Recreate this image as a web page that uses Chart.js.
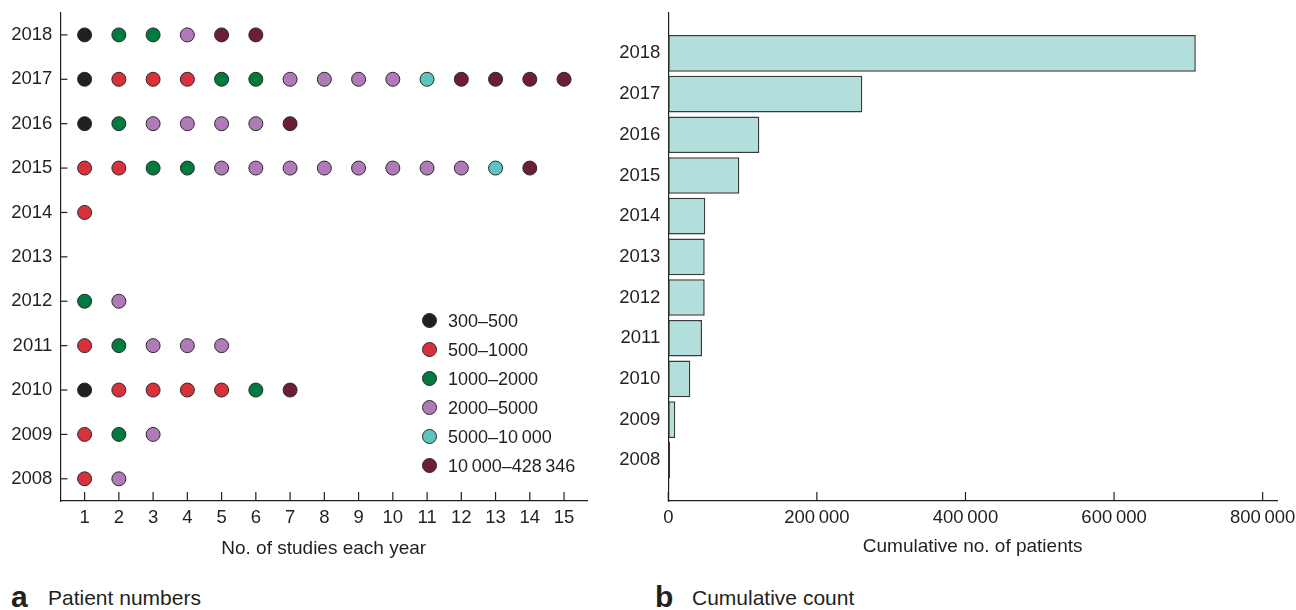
<!DOCTYPE html>
<html>
<head>
<meta charset="utf-8">
<script src="https://cdn.jsdelivr.net/npm/chart.js@4/dist/chart.umd.min.js"></script>
<style>
    body {
        margin: 0;
        width: 1296px;
        height: 610px;
        overflow: hidden;
        background: #fff;
        position: relative;
        font-family: "Liberation Sans", Arial, sans-serif;
        color: #231f20;
    }
    canvas { position: absolute; top: 0; }
    .leyenda-fila {
        position: absolute;
        left: 422px;
        height: 22px;
        line-height: 22px;
        display: flex;
        align-items: center;
        font-size: 18px;
        white-space: nowrap;
    }
    .leyenda-punto {
        width: 15px;
        height: 15px;
        box-sizing: border-box;
        border: 1px solid #2a2a2a;
        border-radius: 50%;
        margin-right: 11px;
        flex: none;
    }
    .pie {
        position: absolute;
        font-size: 21px;
        line-height: 21px;
        white-space: nowrap;
    }
    .letra {
        position: absolute;
        font-size: 30px;
        line-height: 30px;
        font-weight: bold;
    }
</style>
</head>
<body>
<canvas id="graficoEstudios" width="600" height="570" style="left:0"></canvas>
<canvas id="graficoAcumulado" width="740" height="570" style="left:600px"></canvas>
<div id="leyenda"></div>
<div class="letra" style="left:11px;top:582px">a</div>
<div class="pie" style="left:48px;top:587px">Patient numbers</div>
<div class="letra" style="left:655px;top:582px">b</div>
<div class="pie" style="left:692px;top:587px">Cumulative count</div>

<script>
// Categorías de tamaño de estudio (pacientes por estudio)
const categorias = ['300–500', '500–1000', '1000–2000', '2000–5000', '5000–10\u2009000', '10\u2009000–428\u2009346'];
const colores = ['#231f20', '#d7323c', '#007a3e', '#b07ab8', '#5bc5bd', '#6c1c3c'];

const anios = [2008, 2009, 2010, 2011, 2012, 2013, 2014, 2015, 2016, 2017, 2018];

// Categoría de cada estudio, en orden, por año (índice en categorias)
const estudios2008 = [1, 3];
const estudios2009 = [1, 2, 3];
const estudios2010 = [0, 1, 1, 1, 1, 2, 5];
const estudios2011 = [1, 2, 3, 3, 3];
const estudios2012 = [2, 3];
const estudios2013 = [];
const estudios2014 = [1];
const estudios2015 = [1, 1, 2, 2, 3, 3, 3, 3, 3, 3, 3, 3, 4, 5];
const estudios2016 = [0, 2, 3, 3, 3, 3, 5];
const estudios2017 = [0, 1, 1, 1, 2, 2, 3, 3, 3, 3, 4, 5, 5, 5, 5];
const estudios2018 = [0, 2, 2, 3, 5, 5];

const estudiosPorAnio = [estudios2008, estudios2009, estudios2010, estudios2011, estudios2012,
    estudios2013, estudios2014, estudios2015, estudios2016, estudios2017, estudios2018];

// Pacientes acumulados por año
const pacientesAcumulados = [2500, 9400, 29600, 45400, 49000, 49000, 49700, 95600, 122500, 261100, 710000];

const ticksEstudios = [1, 2, 3, 4, 5, 6, 7, 8, 9, 10, 11, 12, 13, 14, 15];
const ticksPacientes = [0, 200000, 400000, 600000, 800000];

const colorTexto = '#231f20';
const familia = '"Liberation Sans", Arial, sans-serif';
const fuenteTicks = { family: familia, size: 18.5 };
const fuenteTitulo = { family: familia, size: 19 };

Chart.defaults.font.family = familia;
Chart.defaults.color = colorTexto;

// Marcas de eje hacia adentro
const ticksInternos = {
    id: 'ticksInternos',
    afterDraw(chart, args, opts) {
        const ctx = chart.ctx;
        ctx.save();
        ctx.strokeStyle = colorTexto;
        ctx.lineWidth = 1.2;
        (opts.ejes || []).forEach(({ id, largo }) => {
            const scale = chart.scales[id];
            scale.ticks.forEach(t => {
                const p = scale.getPixelForValue(t.value);
                ctx.beginPath();
                if (scale.isHorizontal()) {
                    ctx.moveTo(p, scale.top);
                    ctx.lineTo(p, scale.top - largo);
                } else {
                    ctx.moveTo(scale.right, p);
                    ctx.lineTo(scale.right + largo, p);
                }
                ctx.stroke();
            });
        });
        ctx.restore();
    }
};

function fijarTicks(valores) {
    return scale => { scale.ticks = valores.map(v => ({ value: v })); };
}

function anchoEjeY(ancho) {
    return scale => {
        scale.width = ancho;
        scale.paddingTop = 0;
        scale.paddingBottom = 0;
    };
}

function crearGraficoEstudios() {
    const datasets = categorias.map((cat, c) => {
        const puntos = [];
        estudiosPorAnio.forEach((lista, i) => {
            lista.forEach((cod, j) => {
                if (cod === c) puntos.push({ x: j + 1, y: anios[i] });
            });
        });
        return {
            label: cat,
            data: puntos,
            backgroundColor: colores[c],
            borderColor: '#2a2a2a',
            borderWidth: 1,
            pointRadius: 7,
            pointHoverRadius: 7
        };
    });

    new Chart(document.getElementById('graficoEstudios'), {
        type: 'scatter',
        data: { datasets },
        plugins: [ticksInternos],
        options: {
            responsive: false,
            animation: false,
            layout: { padding: { top: 12.7, right: 13, left: 0, bottom: 0 } },
            plugins: {
                legend: { display: false },
                tooltip: { enabled: false },
                ticksInternos: { ejes: [{ id: 'x', largo: 9 }, { id: 'y', largo: 7 }] }
            },
            scales: {
                x: {
                    type: 'linear',
                    min: 0.293,
                    max: 15.67,
                    afterBuildTicks: fijarTicks(ticksEstudios),
                    afterFit: scale => { scale.height = 69; },
                    grid: { display: false, drawTicks: false },
                    border: { display: true, color: colorTexto, width: 1.2 },
                    ticks: { padding: 6, font: fuenteTicks, color: colorTexto, callback: v => String(v) },
                    title: {
                        display: true,
                        text: 'No. of studies each year',
                        font: fuenteTitulo,
                        color: colorTexto,
                        padding: { top: 0, bottom: 10 }
                    }
                },
                y: {
                    type: 'linear',
                    min: 2007.5,
                    max: 2018.5,
                    afterBuildTicks: fijarTicks(anios),
                    afterFit: anchoEjeY(60.4),
                    grid: { display: false, drawTicks: false },
                    border: { display: true, color: colorTexto, width: 1.2 },
                    ticks: { padding: 8, font: fuenteTicks, color: colorTexto, callback: v => String(v) }
                }
            }
        }
    });
}

function crearGraficoAcumulado() {
    new Chart(document.getElementById('graficoAcumulado'), {
        type: 'bar',
        data: {
            datasets: [{
                label: 'Cumulative no. of patients',
                data: anios.map((a, i) => ({ x: pacientesAcumulados[i], y: a })),
                backgroundColor: '#b2dfdb',
                borderColor: '#3a3a3a',
                borderWidth: 1.5,
                borderSkipped: false,
                barPercentage: 0.9,
                categoryPercentage: 1
            }]
        },
        plugins: [ticksInternos],
        options: {
            indexAxis: 'y',
            responsive: false,
            animation: false,
            layout: { padding: { top: 12.7, right: 63, left: 0, bottom: 0 } },
            plugins: {
                legend: { display: false },
                tooltip: { enabled: false },
                ticksInternos: { ejes: [{ id: 'x', largo: 9 }] }
            },
            scales: {
                x: {
                    type: 'linear',
                    min: 0,
                    max: 819300,
                    afterBuildTicks: fijarTicks(ticksPacientes),
                    afterFit: scale => { scale.height = 69; },
                    grid: { display: false, drawTicks: false },
                    border: { display: true, color: colorTexto, width: 1.2 },
                    ticks: {
                        padding: 6,
                        font: fuenteTicks,
                        color: colorTexto,
                        callback: v => v === 0 ? '0' : String(v / 1000) + '\u2009000'
                    },
                    title: {
                        display: true,
                        text: 'Cumulative no. of patients',
                        font: fuenteTitulo,
                        color: colorTexto,
                        padding: { top: 0, bottom: 12 }
                    }
                },
                y: {
                    type: 'linear',
                    offset: false,
                    min: 2007,
                    max: 2019,
                    afterBuildTicks: fijarTicks(anios),
                    afterFit: anchoEjeY(68.3),
                    grid: { display: false, drawTicks: false },
                    border: { display: true, color: colorTexto, width: 1.2 },
                    ticks: { padding: 8, font: fuenteTicks, color: colorTexto, callback: v => String(v) }
                }
            }
        }
    });
}

function crearLeyenda() {
    const cont = document.getElementById('leyenda');
    categorias.forEach((cat, i) => {
        const fila = document.createElement('div');
        fila.className = 'leyenda-fila';
        fila.style.top = (320.7 + i * 29 - 11) + 'px';
        fila.innerHTML = `<span class="leyenda-punto" style="background:${colores[i]}"></span><span>${cat}</span>`;
        cont.appendChild(fila);
    });
}

crearGraficoEstudios();
crearGraficoAcumulado();
crearLeyenda();
</script>
</body>
</html>
